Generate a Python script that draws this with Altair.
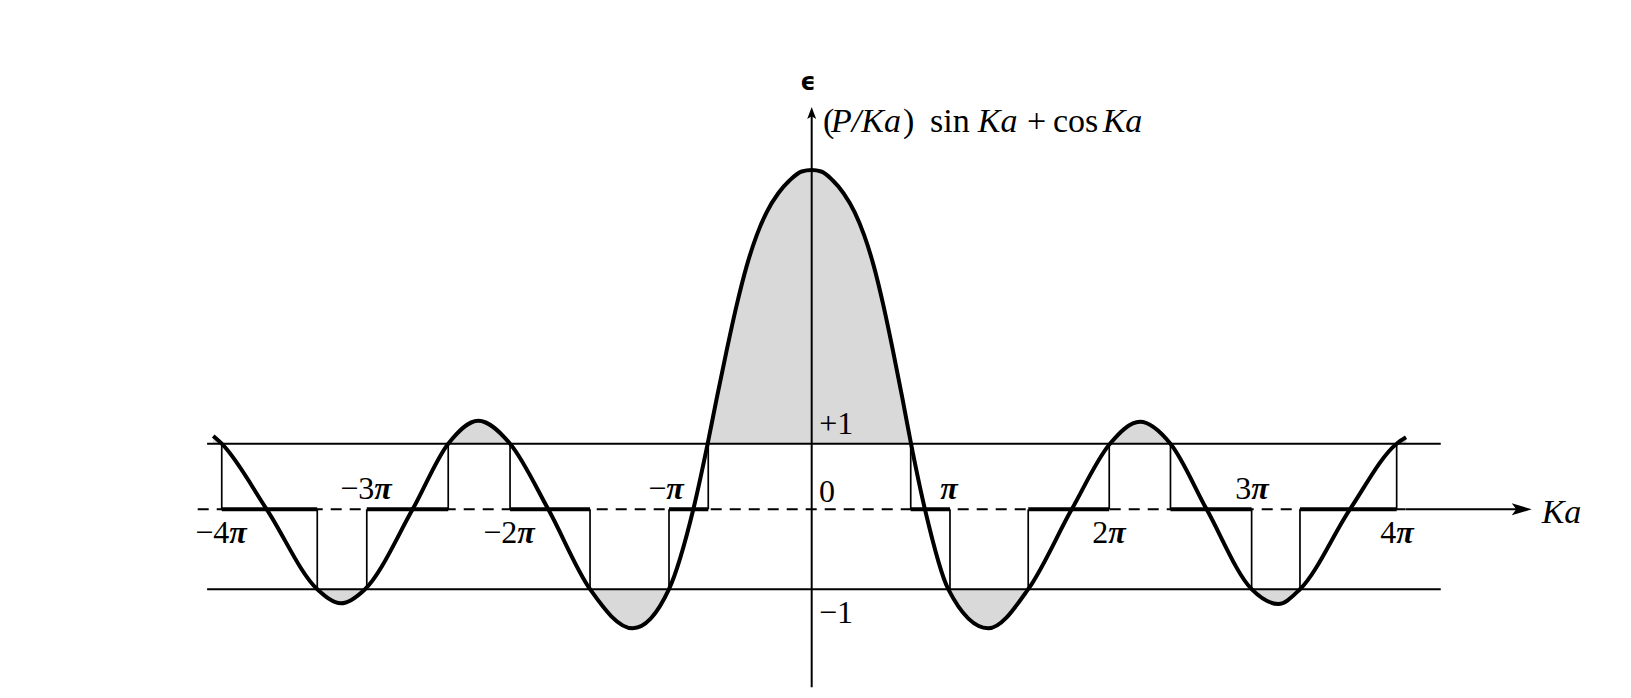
import altair as alt
import pandas as pd

# ---- data (Ka in units of pi, epsilon value) ----
curve_ka = [-4.085, -4.027, -3.720, -3.375, -3.213, -3.049, -2.724, -2.481, -2.276, -2.059,
            -1.798, -1.513, -1.222, -0.974, -0.808, -0.710,
            -0.648, -0.580, -0.512, -0.444, -0.375, -0.307, -0.228, -0.148, -0.068, 0.0,
            0.065, 0.141, 0.218, 0.293, 0.358, 0.424, 0.489, 0.554, 0.619, 0.678,
            0.773, 0.932, 1.205, 1.478, 1.775, 2.036, 2.241, 2.449, 2.696, 3.003,
            3.185, 3.333, 3.674, 3.993, 4.057]
curve_eps = [1.106, 1.0, 0.098, -1.0, -1.194, -1.0, 0.098, 1.0, 1.316, 1.0,
             0.098, -1.0, -1.537, -1.0, 0.098, 1.0,
             1.627, 2.287, 2.905, 3.441, 3.867, 4.184, 4.442, 4.625, 4.742, 4.762,
             4.742, 4.625, 4.442, 4.184, 3.867, 3.441, 2.905, 2.287, 1.627, 1.0,
             0.098, -1.0, -1.537, -1.0, 0.098, 1.0, 1.302, 1.0, 0.098, -1.0,
             -1.203, -1.0, 0.098, 1.0, 1.088]

band_lo = [-4.027, -3.037, -2.059, -0.974, 0.676, 1.478, 2.449, 3.333]
band_hi = [-3.375, -2.481, -1.513, -0.706, 0.944, 2.031, 3.003, 3.993]
lo_level = [1, -1, 1, -1, 1, -1, 1, -1]
hi_level = [-1, 1, -1, 1, -1, 1, -1, 1]

axis_level = 0.098

tick_prefix = ["\u22124", "\u22123", "\u22122", "\u2212", "", "2", "3", "4"]
tick_anchor = [-3.976, -2.986, -2.010, -0.993, 0.877, 2.024, 3.000, 3.990]
tick_base = [-0.365, 0.240, -0.365, 0.240, 0.240, -0.365, 0.240, -0.365]

title_text = ["(", "P/Ka", ")", "sin", "Ka", "+", "cos", "Ka"]
title_italic = [False, True, False, False, True, False, False, True]
title_pos = [0.077, 0.132, 0.623, 0.808, 1.134, 1.470, 1.647, 1.986]
title_base = 5.289

# ---- scales ----
xs = alt.Scale(domain=[-5.486, 5.538], nice=False, zero=False)
ys = alt.Scale(domain=[-2.3856, 6.989], nice=False, zero=False)


def X(f, **kw):
    return alt.X(f, type="quantitative", scale=xs, axis=None, **kw)


def Y(f, **kw):
    return alt.Y(f, type="quantitative", scale=ys, axis=None, **kw)


curve = pd.DataFrame({"ka": curve_ka, "eps": curve_eps, "base": axis_level})

FONT = "Liberation Serif"
BLACK = "#000000"
INTERP = "monotone"

area = alt.Chart(curve).mark_area(color="#d9d9d9", interpolate=INTERP).encode(
    x=X("ka"), y=Y("eps"), y2="base")

white = alt.Chart(pd.DataFrame({"a": [-4.3], "b": [4.3], "c": [-1.0], "d": [1.0]})).mark_rect(
    color="white").encode(x=X("a"), x2="b", y=Y("c"), y2="d")

hlines = alt.Chart(pd.DataFrame({"a": [-4.127, -4.127], "b": [4.294, 4.294], "y": [1.0, -1.0]})).mark_rule(
    color=BLACK, strokeWidth=2).encode(x=X("a"), x2="b", y=Y("y"))

dashed = alt.Chart(pd.DataFrame({"a": [-4.191], "b": [4.057], "y": [axis_level]})).mark_rule(
    color=BLACK, strokeWidth=2, strokeDash=[11, 8]).encode(x=X("a"), x2="b", y=Y("y"))

xarrow_line = alt.Chart(pd.DataFrame({"a": [4.057], "b": [4.87], "y": [axis_level]})).mark_rule(
    color=BLACK, strokeWidth=2).encode(x=X("a"), x2="b", y=Y("y"))

xarrow_head = alt.Chart(pd.DataFrame({"x": [4.915], "y": [axis_level]})).mark_point(
    shape="M0,0 L-2,-0.6 L-1.55,0 L-2,0.6 Z", filled=True, size=400, color=BLACK,
    opacity=1, strokeWidth=0).encode(x=X("x"), y=Y("y"))

edges = pd.DataFrame({"x": band_lo + band_hi, "lvl": lo_level + hi_level, "y": axis_level})
vlines = alt.Chart(edges).mark_rule(color=BLACK, strokeWidth=1.7).encode(
    x=X("x"), y=Y("y"), y2="lvl")

bands = alt.Chart(pd.DataFrame({"a": band_lo, "b": band_hi, "y": axis_level})).mark_rule(
    color=BLACK, strokeWidth=4, strokeCap="butt").encode(x=X("a"), x2="b", y=Y("y"))

yaxis = alt.Chart(pd.DataFrame({"x": [0.0], "a": [-2.348], "b": [5.55]})).mark_rule(
    color=BLACK, strokeWidth=2).encode(x=X("x"), y=Y("a"), y2="b")

yarrow_head = alt.Chart(pd.DataFrame({"x": [0.0], "y": [5.628]})).mark_point(
    shape="M0,0 L-0.75,2 L0,1.55 L0.75,2 Z", filled=True, size=144, color=BLACK,
    opacity=1, strokeWidth=0).encode(x=X("x"), y=Y("y"))

line = alt.Chart(curve).mark_line(color=BLACK, strokeWidth=4, interpolate=INTERP).encode(
    x=X("ka"), y=Y("eps"))

tick_df = pd.DataFrame({"t": tick_prefix, "p": "\u03c0", "x": tick_anchor, "y": tick_base})
tick_pre = alt.Chart(tick_df).mark_text(
    font=FONT, fontSize=32, color=BLACK, align="right", baseline="alphabetic").encode(
    x=X("x"), y=Y("y"), text="t")
tick_pi = alt.Chart(tick_df).mark_text(
    font=FONT, fontSize=32, fontStyle="italic", fontWeight="bold", color=BLACK,
    align="left", baseline="alphabetic").encode(x=X("x"), y=Y("y"), text="p")

zero_label = alt.Chart(pd.DataFrame({"t": ["0"], "x": [0.105], "y": [0.203]})).mark_text(
    font=FONT, fontSize=32, color=BLACK, align="center", baseline="alphabetic").encode(
    x=X("x"), y=Y("y"), text="t")

pm_labels = alt.Chart(pd.DataFrame({"t": ["+1", "\u22121"], "x": [0.052, 0.050], "y": [1.129, -1.460]})).mark_text(
    font=FONT, fontSize=32, color=BLACK, align="left", baseline="alphabetic").encode(
    x=X("x"), y=Y("y"), text="t")

eps_label = alt.Chart(pd.DataFrame({"t": ["\u03f5"], "x": [-0.025], "y": [5.86]})).mark_text(
    font="DejaVu Sans", fontSize=24, fontWeight="bold", color=BLACK, align="center",
    baseline="alphabetic").encode(x=X("x"), y=Y("y"), text="t")

tdf = pd.DataFrame({"t": title_text, "x": title_pos, "it": title_italic, "y": title_base})
title_up = alt.Chart(tdf[~tdf["it"]]).mark_text(
    font=FONT, fontSize=34, color=BLACK, align="left", baseline="alphabetic").encode(
    x=X("x"), y=Y("y"), text="t")
title_it = alt.Chart(tdf[tdf["it"]]).mark_text(
    font=FONT, fontSize=34, fontStyle="italic", color=BLACK, align="left",
    baseline="alphabetic").encode(x=X("x"), y=Y("y"), text="t")

ka_label = alt.Chart(pd.DataFrame({"t": ["Ka"], "x": [4.983], "y": [-0.086]})).mark_text(
    font=FONT, fontSize=34, fontStyle="italic", color=BLACK, align="left",
    baseline="alphabetic").encode(x=X("x"), y=Y("y"), text="t")

chart = alt.layer(
    area, white, hlines, dashed, xarrow_line, xarrow_head, vlines, bands, yaxis, yarrow_head,
    line, tick_pre, tick_pi, zero_label, pm_labels, eps_label, title_up, title_it, ka_label
).properties(
    width=1615, height=682,
    autosize=alt.AutoSizeParams(type="fit", contains="padding"),
    padding=0, background="white"
).configure_view(stroke=None)

chart.save("out.html", embed_options={"renderer": "svg", "actions": False})
